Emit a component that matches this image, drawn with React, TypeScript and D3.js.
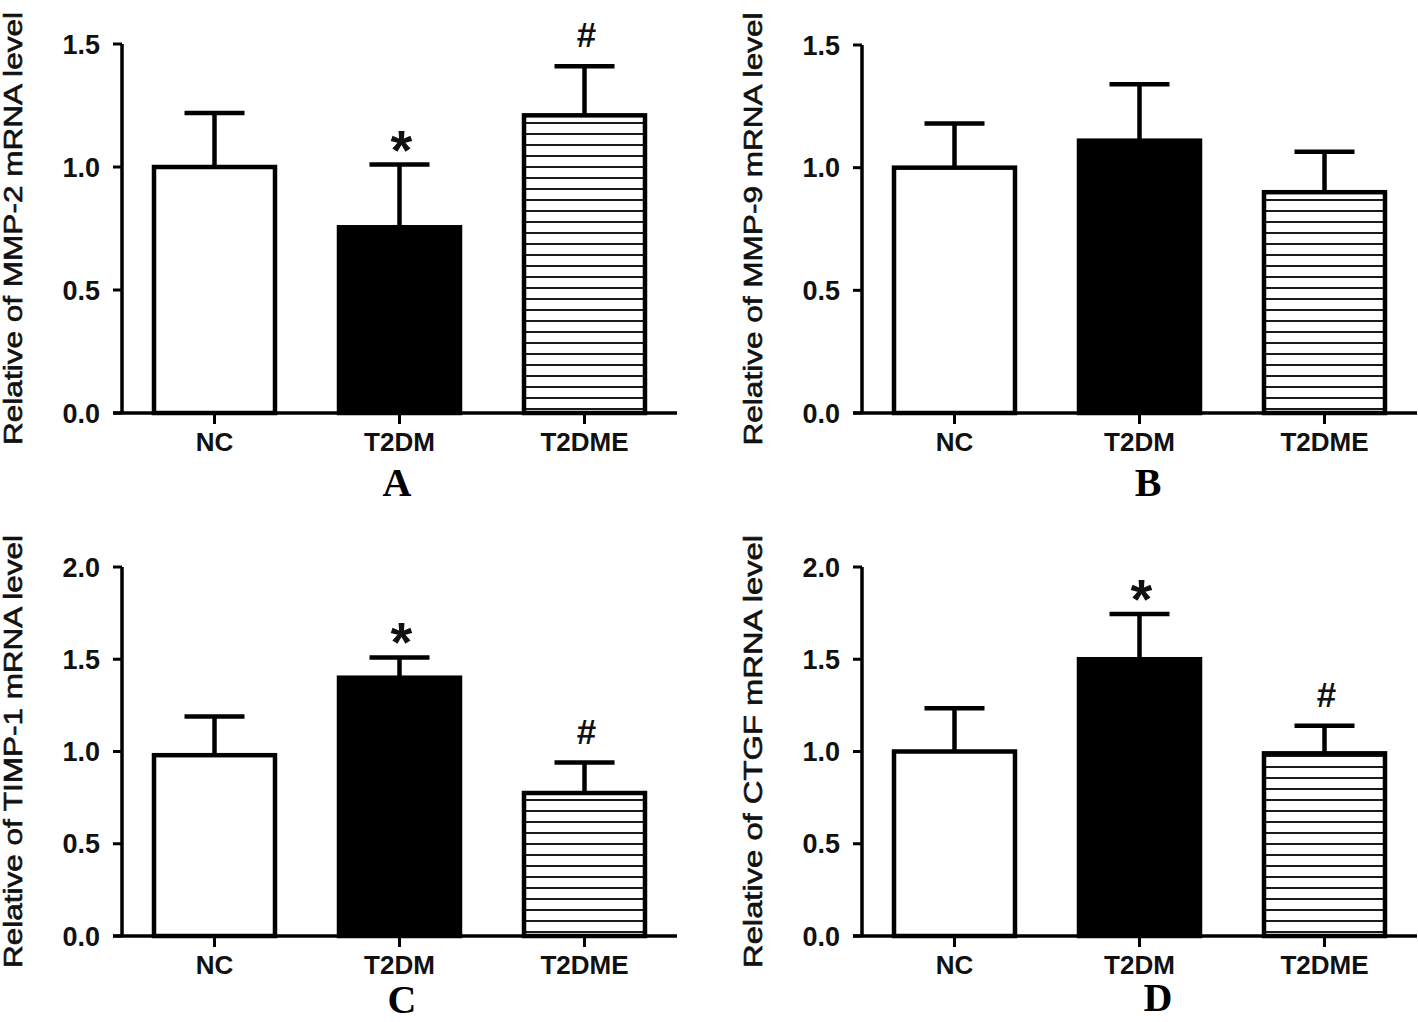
import { useEffect, useRef } from "react";
import * as d3 from "d3";

const categories = ["NC", "T2DM", "T2DME"];

// panel A
const mmp2Mean = [1.0, 0.755, 1.21];
const mmp2Sem = [0.22, 0.255, 0.2];
const mmp2Marks = ["", "*", "#"];

// panel B
const mmp9Mean = [1.0, 1.11, 0.9];
const mmp9Sem = [0.18, 0.23, 0.165];
const mmp9Marks = ["", "", ""];

// panel C
const timp1Mean = [0.98, 1.4, 0.775];
const timp1Sem = [0.21, 0.11, 0.165];
const timp1Marks = ["", "*", "#"];

// panel D
const ctgfMean = [1.0, 1.5, 0.99];
const ctgfSem = [0.235, 0.245, 0.15];
const ctgfMarks = ["", "*", "#"];

const ticks15 = [0, 0.5, 1.0, 1.5];
const ticks20 = [0, 0.5, 1.0, 1.5, 2.0];

const SANS = "'Liberation Sans', Arial, sans-serif";
const SERIF = "'Liberation Serif', 'Times New Roman', serif";

interface Panel {
  id: string;
  letter: string;
  yLabel: string;
  mean: number[];
  sem: number[];
  marks: string[];
  ticks: number[];
  left: number;
  top: number;
  bottom: number;
  letterX: number;
  letterY: number;
}

const panels: Panel[] = [
  { id: "a", letter: "A", yLabel: "Relative  of MMP-2 mRNA level", mean: mmp2Mean, sem: mmp2Sem, marks: mmp2Marks, ticks: ticks15, left: 122, top: 44, bottom: 413, letterX: 397, letterY: 496 },
  { id: "b", letter: "B", yLabel: "Relative  of MMP-9 mRNA level", mean: mmp9Mean, sem: mmp9Sem, marks: mmp9Marks, ticks: ticks15, left: 862, top: 45, bottom: 413, letterX: 1148, letterY: 496 },
  { id: "c", letter: "C", yLabel: "Relative of TIMP-1 mRNA level", mean: timp1Mean, sem: timp1Sem, marks: timp1Marks, ticks: ticks20, left: 122, top: 567, bottom: 936, letterX: 402, letterY: 1013 },
  { id: "d", letter: "D", yLabel: "Relative  of CTGF mRNA level", mean: ctgfMean, sem: ctgfSem, marks: ctgfMarks, ticks: ticks20, left: 862, top: 567, bottom: 936, letterX: 1158, letterY: 1011 },
];

const PLOT_W = 555;

export default function App() {
  const ref = useRef<SVGSVGElement | null>(null);

  useEffect(() => {
    if (!ref.current) return;
    const svg = d3.select(ref.current);
    svg.selectAll("*").remove();
    svg.append("rect").attr("width", 1418).attr("height", 1022).attr("fill", "#fff");
    const defs = svg.append("defs");

    panels.forEach((p) => {
      const x = d3
        .scaleBand<string>()
        .domain(categories)
        .range([p.left, p.left + PLOT_W])
        .paddingInner(0.346)
        .paddingOuter(0.173);
      const yMax = p.ticks[p.ticks.length - 1];
      const y = d3.scaleLinear().domain([0, yMax]).range([p.bottom, p.top]);

      // hatch pattern anchored to the baseline
      const pat = defs
        .append("pattern")
        .attr("id", `hatch-${p.id}`)
        .attr("patternUnits", "userSpaceOnUse")
        .attr("x", 0)
        .attr("y", p.bottom)
        .attr("width", 10)
        .attr("height", 11);
      pat.append("rect").attr("width", 10).attr("height", 11).attr("fill", "#fff");
      pat
        .append("line")
        .attr("x1", 0)
        .attr("x2", 10)
        .attr("y1", 7)
        .attr("y2", 7)
        .attr("stroke", "#000")
        .attr("stroke-width", 1.8);

      const g = svg.append("g");

      // ── Y axis ──
      g.append("line")
        .attr("x1", p.left)
        .attr("x2", p.left)
        .attr("y1", y(yMax))
        .attr("y2", p.bottom)
        .attr("stroke", "#000")
        .attr("stroke-width", 3.5);
      g.selectAll("line.ytick")
        .data(p.ticks)
        .enter()
        .append("line")
        .attr("class", "ytick")
        .attr("x1", p.left - 9)
        .attr("x2", p.left)
        .attr("y1", (d) => y(d))
        .attr("y2", (d) => y(d))
        .attr("stroke", "#000")
        .attr("stroke-width", 3);
      g.selectAll("text.ytick")
        .data(p.ticks)
        .enter()
        .append("text")
        .attr("class", "ytick")
        .attr("x", p.left - 22)
        .attr("y", (d) => y(d) + 9.5)
        .attr("text-anchor", "end")
        .attr("font-family", SANS)
        .attr("font-weight", "bold")
        .attr("font-size", 27)
        .attr("fill", "#111")
        .text((d) => d3.format(".1f")(d));

      // ── X axis ──
      g.append("line")
        .attr("x1", p.left - 9)
        .attr("x2", p.left + PLOT_W)
        .attr("y1", p.bottom)
        .attr("y2", p.bottom)
        .attr("stroke", "#000")
        .attr("stroke-width", 3.5);
      g.selectAll("line.xtick")
        .data(categories)
        .enter()
        .append("line")
        .attr("class", "xtick")
        .attr("x1", (d) => (x(d) as number) + x.bandwidth() / 2)
        .attr("x2", (d) => (x(d) as number) + x.bandwidth() / 2)
        .attr("y1", p.bottom)
        .attr("y2", p.bottom + 11)
        .attr("stroke", "#000")
        .attr("stroke-width", 3);
      g.selectAll("text.xtick")
        .data(categories)
        .enter()
        .append("text")
        .attr("class", "xtick")
        .attr("x", (d) => (x(d) as number) + x.bandwidth() / 2)
        .attr("y", p.bottom + 38)
        .attr("text-anchor", "middle")
        .attr("font-family", SANS)
        .attr("font-weight", "bold")
        .attr("font-size", 26)
        .attr("fill", "#111")
        .text((d) => d);

      // ── Y label ──
      g.append("text")
        .attr("transform", `translate(${p.left - 100},${(p.top + p.bottom) / 2}) rotate(-90)`)
        .attr("text-anchor", "middle")
        .attr("font-family", SANS)
        .attr("font-size", 25)
        .attr("fill", "#111")
        .attr("stroke", "#111")
        .attr("stroke-width", 0.6)
        .attr("textLength", 433)
        .attr("lengthAdjust", "spacingAndGlyphs")
        .text(p.yLabel);

      // ── Bars ──
      const fills = ["#fff", "#000", `url(#hatch-${p.id})`];
      g.selectAll("rect.bar")
        .data(categories)
        .enter()
        .append("rect")
        .attr("class", "bar")
        .attr("x", (d) => x(d) as number)
        .attr("y", (_, i) => y(p.mean[i]))
        .attr("width", x.bandwidth())
        .attr("height", (_, i) => p.bottom - y(p.mean[i]))
        .attr("fill", (_, i) => fills[i])
        .attr("stroke", "#000")
        .attr("stroke-width", 4.5);

      // ── Error bars (upper only) ──
      const cx = (d: string) => (x(d) as number) + x.bandwidth() / 2;
      g.selectAll("line.stem")
        .data(categories)
        .enter()
        .append("line")
        .attr("class", "stem")
        .attr("x1", cx)
        .attr("x2", cx)
        .attr("y1", (_, i) => y(p.mean[i]))
        .attr("y2", (_, i) => y(p.mean[i] + p.sem[i]))
        .attr("stroke", "#000")
        .attr("stroke-width", 4.5);
      g.selectAll("line.cap")
        .data(categories)
        .enter()
        .append("line")
        .attr("class", "cap")
        .attr("x1", (d) => cx(d) - 30)
        .attr("x2", (d) => cx(d) + 30)
        .attr("y1", (_, i) => y(p.mean[i] + p.sem[i]))
        .attr("y2", (_, i) => y(p.mean[i] + p.sem[i]))
        .attr("stroke", "#000")
        .attr("stroke-width", 4.5);

      // ── Significance marks ──
      g.selectAll("text.mark")
        .data(categories)
        .enter()
        .append("text")
        .attr("class", "mark")
        .attr("x", (d) => cx(d) + 2)
        .attr("y", (_, i) => {
          const top = y(p.mean[i] + p.sem[i]);
          return p.marks[i] === "*" ? top + 4 : top - 19;
        })
        .attr("text-anchor", "middle")
        .attr("font-family", SANS)
        .attr("font-weight", "bold")
        .attr("font-size", (_, i) => (p.marks[i] === "*" ? 56 : 35))
        .attr("fill", "#111")
        .text((_, i) => p.marks[i]);

      // ── Panel letter ──
      svg
        .append("text")
        .attr("x", p.letterX)
        .attr("y", p.letterY)
        .attr("text-anchor", "middle")
        .attr("font-family", SERIF)
        .attr("font-weight", "bold")
        .attr("font-size", 40)
        .attr("fill", "#000")
        .text(p.letter);
    });
  }, []);

  return (
    <svg
      ref={ref}
      width={1418}
      height={1022}
      style={{ position: "absolute", left: 0, top: 0 }}
    />
  );
}
